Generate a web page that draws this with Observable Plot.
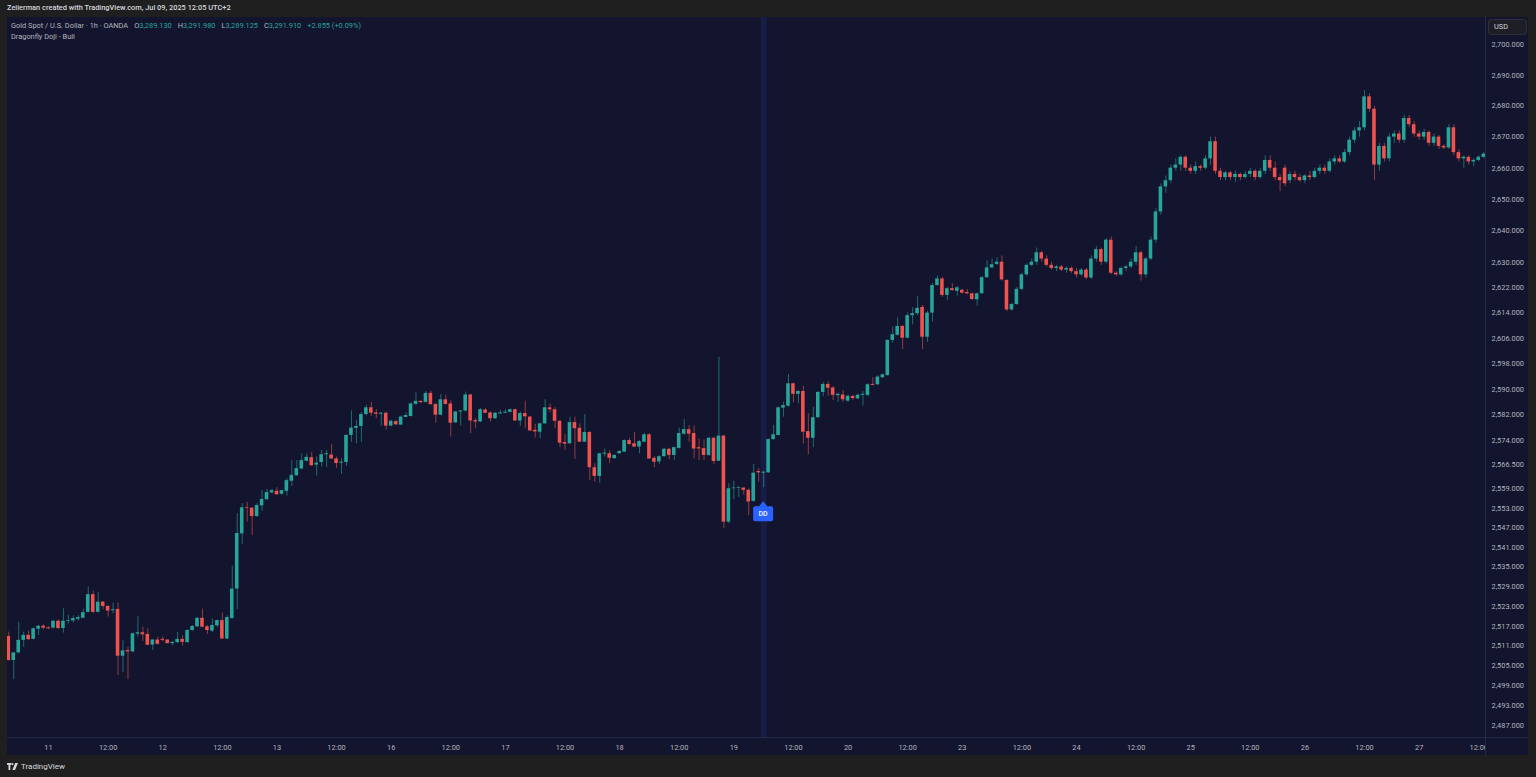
<!DOCTYPE html>
<html>
<head>
<meta charset="utf-8">
<script src="https://cdn.jsdelivr.net/npm/d3@7"></script>
<script src="https://cdn.jsdelivr.net/npm/@observablehq/plot@0.6"></script>
<style>
  html, body { margin: 0; padding: 0; width: 1536px; height: 777px; overflow: hidden; background: #1f1f1f;
    font-family: Roboto, "Liberation Sans", "DejaVu Sans", sans-serif; }
  #topbar { position: absolute; left: 7px; top: 3px; font-size: 7.4px; font-weight: 500; color: #d6d8de; white-space: nowrap; }
  #chart { position: absolute; left: 7px; top: 17px; width: 1521px; height: 738px; background: #13142d; overflow: hidden; }
  #legend { position: absolute; left: 4px; top: 3px; font-size: 7.4px; line-height: 11px; color: #b2b5be; white-space: nowrap; }
  #legend .v { color: #26a69a; }
  #legend .gap { display: inline-block; width: 6px; }
  #vsep { position: absolute; left: 1478px; top: 0; width: 1px; height: 738px; background: #262943; }
  #hsep { position: absolute; left: 0; top: 720px; width: 1521px; height: 1px; background: #262943; }
  #cover { position: absolute; left: 1479px; top: 721px; width: 42px; height: 17px; background: #13142d; }
  #usd { position: absolute; left: 1481px; top: 2px; width: 39px; height: 16px; border-radius: 3px; background: #1e1f26;
    border: 1px solid #2c2e3a; box-sizing: border-box; font-size: 7.4px; color: #d1d4dc; line-height: 14px; padding-left: 5px; }
  #footer { position: absolute; left: 7px; top: 760px; height: 12px; display: flex; align-items: center; gap: 3px;
    font-size: 8px; color: #d6d8de; }
</style>
</head>
<body>
<div id="topbar">Zeiierman created with TradingView.com, Jul 09, 2025 12:05 UTC+2</div>
<div id="chart">
  <div id="plot"></div>
  <div id="cover"></div>
  <div id="vsep"></div>
  <div id="hsep"></div>
  <div id="legend"></div>
  <div id="usd">USD</div>
</div>
<div id="footer">
  <svg width="11" height="7" viewBox="0 0 11 7"><rect x="0" y="0" width="4.2" height="1.8" fill="#d6d8de"/><rect x="1.5" y="0" width="1.8" height="7" fill="#d6d8de"/><circle cx="5.4" cy="1.1" r="1.1" fill="#d6d8de"/><path d="M8.2 0 L11 0 L8 7 L5.4 7 Z" fill="#d6d8de"/></svg>
  <span>TradingView</span>
</div>
<script>
// ---- data (Gold Spot / USD, OANDA, 1h) ----
const sessionDays = ["2024-09-10","2024-09-11","2024-09-12","2024-09-13","2024-09-16","2024-09-17","2024-09-18",
  "2024-09-19","2024-09-20","2024-09-23","2024-09-24","2024-09-25","2024-09-26","2024-09-27"];
const firstBarHour = 15, lastBarHour = 13, sessionLastHour = 22;

const open = [
2513.9,2506.6,2508.9,2512.7,2514.2,2513.0,2516.1,2517.0,2516.5,2516.4,2518.5,2516.3,2518.5,2518.6,2519.1,2519.4,2521.2,2526.6,2521.2,2524.3,
2523.0,2521.7,2522.1,2507.9,2509.6,2509.2,2514.6,2515.0,2514.5,2511.3,2512.8,2513.0,2512.8,2511.7,2512.0,2513.0,2512.0,2515.7,2516.8,2519.4,
2516.8,2515.5,2517.1,2518.7,2513.1,2519.3,2528.3,2545.2,2553.3,2553.1,2550.5,2553.8,2555.7,2557.8,2558.3,2557.4,2558.3,2561.4,2563.1,2565.2,
2567.6,2568.7,2566.4,2567.2,2569.6,2569.5,2568.3,2567.0,2567.2,2575.6,2577.8,2578.4,2582.1,2584.2,2582.6,2582.2,2582.5,2578.5,2579.9,2578.8,
2581.2,2581.5,2585.3,2586.2,2585.9,2588.7,2585.2,2581.9,2586.7,2585.4,2579.5,2582.9,2583.2,2588.2,2580.2,2579.8,2583.5,2582.6,2580.8,2582.3,
2582.5,2582.8,2583.6,2580.1,2582.4,2581.3,2577.2,2576.6,2579.2,2584.2,2583.6,2580.0,2573.4,2573.0,2579.6,2577.8,2573.5,2576.5,2565.6,2562.9,
2569.8,2569.9,2568.4,2569.9,2570.4,2574.0,2573.0,2572.0,2573.5,2575.8,2568.5,2567.4,2569.0,2571.3,2569.4,2571.6,2576.0,2577.4,2576.2,2571.8,
2571.5,2569.4,2574.7,2567.6,2575.4,2548.8,2559.1,2559.2,2559.3,2558.6,2555.2,2564.4,2563.9,2564.0,2574.3,2575.6,2584.1,2584.7,2591.7,2588.4,
2589.3,2576.8,2574.7,2581.1,2589.0,2591.5,2590.4,2588.0,2588.2,2586.3,2587.7,2587.0,2588.1,2588.1,2591.5,2591.4,2593.6,2594.3,2605.3,2606.9,
2609.7,2606.0,2613.1,2613.7,2615.7,2606.3,2613.9,2622.6,2624.7,2619.5,2621.6,2620.8,2621.1,2620.4,2620.0,2618.1,2620.0,2625.1,2628.2,2629.3,
2630.0,2624.2,2614.9,2616.6,2621.4,2626.0,2629.0,2630.0,2633.0,2631.0,2629.0,2628.0,2628.5,2627.5,2628.0,2627.0,2626.0,2627.5,2625.0,2631.0,
2634.0,2630.0,2637.0,2626.5,2626.0,2628.0,2628.5,2630.0,2633.0,2626.0,2631.0,2637.0,2646.0,2654.0,2656.0,2660.0,2661.0,2663.5,2660.0,2659.0,
2660.5,2660.0,2663.0,2668.5,2659.0,2657.0,2658.5,2657.0,2658.0,2657.0,2658.0,2659.0,2657.0,2659.0,2662.5,2660.0,2657.0,2660.0,2656.0,2658.0,
2657.0,2656.0,2657.5,2657.0,2659.0,2660.0,2659.0,2662.0,2663.0,2662.0,2665.0,2669.0,2672.0,2673.0,2683.0,2679.0,2661.0,2667.0,2663.0,2670.0,
2671.0,2669.0,2676.0,2674.0,2671.0,2670.0,2671.5,2668.0,2670.0,2667.0,2666.5,2673.0,2665.0,2663.0,2663.5,2662.0,2662.5,2663.5];
const high = [
2515.2,2509.0,2518.2,2515.2,2515.5,2516.5,2517.2,2517.4,2516.8,2518.7,2518.9,2522.3,2520.3,2520.1,2520.2,2522.2,2528.9,2527.7,2527.2,2524.5,
2523.2,2524.0,2524.1,2512.7,2510.6,2514.9,2520.0,2516.7,2516.2,2512.9,2513.7,2513.7,2512.8,2512.2,2515.1,2514.1,2515.9,2517.2,2519.6,2522.2,
2517.2,2519.2,2518.9,2521.0,2520.2,2535.3,2551.4,2554.5,2554.9,2553.2,2554.5,2558.6,2558.9,2558.9,2559.4,2558.6,2562.2,2567.8,2567.8,2569.9,
2569.9,2570.4,2568.9,2570.9,2570.9,2572.8,2568.9,2568.4,2575.8,2583.2,2580.3,2582.7,2585.0,2585.9,2583.6,2582.7,2582.9,2580.3,2580.3,2581.7,
2582.6,2585.7,2588.9,2586.5,2589.3,2589.4,2585.6,2588.4,2588.1,2586.3,2583.1,2583.4,2589.1,2588.4,2580.8,2583.9,2583.9,2582.9,2582.7,2583.4,
2583.6,2583.8,2583.8,2582.9,2586.3,2581.5,2579.1,2579.4,2586.7,2585.4,2584.2,2580.3,2575.9,2581.3,2581.3,2579.2,2582.1,2576.8,2566.8,2570.1,
2571.4,2570.9,2569.6,2570.9,2574.2,2574.7,2576.5,2574.0,2576.2,2576.2,2569.0,2569.3,2571.6,2571.6,2572.0,2577.9,2580.6,2578.7,2578.5,2574.5,
2574.2,2575.1,2575.1,2600.0,2575.6,2560.6,2561.4,2559.7,2559.4,2559.0,2566.6,2565.3,2564.5,2574.5,2578.7,2584.4,2585.9,2594.6,2591.9,2589.6,
2591.0,2582.4,2584.4,2589.3,2592.2,2592.4,2590.8,2588.8,2589.6,2588.2,2588.2,2588.5,2589.4,2591.7,2593.6,2594.2,2594.8,2605.5,2609.5,2612.4,
2610.0,2614.0,2615.6,2619.2,2616.3,2614.5,2623.2,2625.6,2625.1,2622.0,2623.2,2622.3,2621.4,2621.3,2620.2,2620.2,2625.5,2630.5,2631.0,2631.5,
2632.0,2624.5,2617.0,2622.0,2626.5,2629.5,2631.0,2634.5,2633.5,2632.0,2630.0,2629.0,2629.0,2628.5,2628.5,2628.0,2628.0,2628.0,2632.0,2635.0,
2634.5,2637.5,2638.0,2627.0,2628.5,2629.0,2631.0,2635.0,2633.5,2631.5,2638.0,2647.0,2655.0,2657.5,2661.0,2663.0,2664.0,2664.0,2661.0,2662.0,
2661.0,2664.0,2670.0,2670.0,2660.0,2659.0,2659.0,2659.0,2658.5,2659.0,2660.0,2659.5,2660.0,2664.0,2664.0,2662.0,2658.0,2661.0,2659.0,2659.0,
2658.0,2658.0,2659.0,2660.0,2661.0,2661.0,2663.0,2664.0,2664.0,2666.0,2670.0,2673.0,2675.0,2685.0,2684.0,2680.0,2668.0,2668.0,2671.0,2672.0,
2672.0,2677.0,2677.0,2675.0,2672.0,2672.5,2672.0,2671.0,2670.5,2667.5,2674.0,2674.0,2666.0,2664.0,2664.0,2663.0,2664.0,2665.0];
const low = [
2506.4,2500.8,2508.6,2510.6,2512.7,2512.9,2514.2,2515.9,2516.0,2516.2,2516.0,2514.9,2517.7,2518.0,2518.5,2519.3,2521.1,2520.8,2521.1,2522.0,
2519.8,2520.8,2502.1,2503.0,2500.8,2508.9,2513.7,2512.4,2511.2,2509.6,2511.3,2512.2,2511.7,2511.0,2511.7,2510.9,2511.9,2515.5,2516.7,2516.5,
2514.5,2515.0,2516.5,2513.0,2513.0,2519.2,2522.0,2541.9,2548.8,2544.7,2550.3,2552.1,2555.5,2557.5,2557.2,2557.1,2556.8,2559.8,2562.9,2565.0,
2567.4,2566.0,2563.0,2565.8,2565.6,2568.1,2565.4,2563.5,2566.0,2573.5,2573.0,2573.5,2581.7,2581.5,2580.8,2578.4,2577.2,2578.3,2578.7,2578.7,
2581.2,2581.3,2585.0,2585.6,2585.6,2585.0,2579.4,2581.7,2585.2,2575.1,2579.4,2578.5,2582.9,2576.2,2577.7,2579.6,2582.4,2579.8,2580.6,2582.2,
2582.4,2582.6,2579.9,2578.4,2577.7,2576.8,2574.8,2574.6,2579.1,2582.6,2577.7,2571.8,2570.9,2572.9,2568.2,2573.4,2573.4,2561.6,2561.1,2560.8,
2568.9,2566.8,2568.2,2569.9,2570.4,2572.5,2571.8,2569.9,2573.4,2568.2,2565.6,2566.5,2568.9,2568.1,2567.8,2571.4,2575.6,2573.5,2568.3,2567.8,
2567.8,2569.1,2566.6,2567.5,2546.8,2548.3,2555.7,2556.4,2557.1,2550.8,2554.9,2561.1,2559.4,2563.9,2574.2,2575.5,2581.3,2584.4,2585.7,2585.5,
2573.0,2569.6,2571.8,2581.0,2587.6,2587.8,2586.5,2585.9,2585.9,2585.9,2586.5,2586.7,2584.7,2587.6,2591.1,2591.2,2593.3,2594.0,2604.4,2606.7,
2602.4,2605.8,2610.2,2613.1,2602.4,2604.7,2611.1,2622.5,2618.9,2617.9,2620.8,2619.2,2619.9,2619.7,2617.9,2616.1,2619.8,2624.8,2627.9,2629.0,
2624.0,2614.4,2614.5,2616.4,2621.0,2625.5,2628.5,2629.0,2630.0,2628.5,2627.5,2627.0,2627.0,2626.5,2626.5,2625.0,2625.5,2624.5,2624.5,2630.0,
2629.0,2629.5,2626.0,2625.5,2625.5,2627.0,2628.0,2629.0,2624.0,2625.0,2630.5,2636.0,2645.0,2652.0,2655.0,2659.0,2659.0,2659.0,2658.0,2658.0,
2659.0,2659.5,2661.0,2658.0,2656.0,2656.0,2656.0,2655.5,2656.0,2656.5,2657.0,2656.0,2656.5,2658.0,2659.0,2656.0,2652.5,2654.0,2655.0,2656.0,
2655.5,2655.0,2656.0,2656.5,2658.0,2658.0,2658.5,2661.0,2661.5,2661.5,2664.0,2668.0,2670.0,2672.0,2678.0,2656.0,2659.0,2662.0,2662.0,2668.0,
2668.0,2668.0,2673.0,2670.0,2669.0,2669.0,2667.0,2667.0,2666.0,2666.0,2666.0,2664.0,2662.0,2660.0,2661.0,2660.5,2662.0,2663.0];
const close = [
2506.6,2508.9,2512.7,2514.2,2512.9,2516.2,2517.0,2516.4,2516.2,2518.5,2516.3,2518.5,2518.7,2519.3,2519.6,2521.1,2526.6,2521.2,2524.3,2523.0,
2521.6,2522.0,2507.9,2509.5,2509.2,2514.7,2515.0,2514.4,2511.2,2512.8,2511.5,2512.7,2511.7,2512.1,2513.0,2512.1,2515.7,2516.9,2519.4,2516.7,
2515.7,2517.2,2518.7,2513.1,2519.6,2528.3,2545.3,2553.2,2553.1,2550.5,2553.9,2555.8,2557.9,2558.5,2557.2,2558.5,2561.6,2563.2,2565.3,2567.8,
2568.8,2566.2,2567.0,2569.6,2569.9,2568.3,2566.9,2567.3,2575.6,2577.9,2578.4,2582.1,2584.2,2582.5,2582.2,2582.5,2578.5,2580.0,2578.9,2581.3,
2581.8,2585.4,2586.2,2585.8,2588.7,2585.2,2581.9,2586.7,2585.2,2579.4,2582.9,2583.2,2588.2,2580.1,2579.8,2583.6,2582.5,2580.8,2582.5,2582.6,
2582.8,2583.6,2580.1,2582.4,2581.4,2577.0,2576.7,2579.2,2584.2,2583.6,2580.0,2573.2,2572.9,2579.6,2577.7,2573.5,2576.5,2565.6,2562.9,2569.9,
2570.1,2568.5,2569.4,2570.6,2574.0,2572.8,2572.0,2573.7,2575.8,2568.3,2567.3,2569.0,2571.3,2569.4,2571.8,2576.2,2577.4,2576.0,2571.4,2571.4,
2569.4,2574.7,2567.5,2575.4,2548.8,2559.1,2559.3,2559.4,2558.6,2555.0,2563.9,2564.0,2564.2,2574.3,2575.8,2584.2,2584.9,2591.7,2588.4,2589.3,
2576.6,2574.7,2581.1,2589.0,2591.5,2590.3,2588.1,2588.4,2586.7,2587.8,2587.1,2588.1,2588.4,2591.4,2591.2,2593.8,2594.5,2605.3,2607.1,2609.7,
2606.0,2613.1,2613.7,2615.4,2606.3,2613.9,2622.6,2624.7,2619.5,2621.6,2621.0,2621.9,2620.2,2620.0,2618.2,2620.0,2625.1,2628.2,2629.2,2630.0,
2624.4,2614.9,2616.6,2621.4,2626.0,2629.0,2630.0,2633.0,2631.0,2629.0,2628.0,2628.5,2627.5,2628.0,2627.0,2626.0,2627.5,2625.0,2631.0,2634.0,
2630.0,2637.0,2626.5,2626.0,2628.0,2628.5,2630.0,2633.0,2626.0,2631.0,2637.0,2646.0,2654.0,2656.0,2660.0,2661.0,2663.5,2660.0,2659.0,2660.5,
2660.0,2663.0,2668.5,2659.0,2657.0,2658.5,2657.0,2658.0,2657.0,2658.0,2659.0,2657.0,2659.0,2662.5,2660.0,2657.0,2656.0,2655.0,2658.0,2657.0,
2656.0,2657.5,2657.0,2659.0,2660.0,2659.0,2662.0,2663.0,2662.0,2665.0,2669.0,2672.0,2673.0,2683.0,2679.0,2661.0,2667.0,2663.0,2670.0,2671.0,
2669.0,2676.0,2674.0,2671.0,2670.0,2671.5,2668.0,2670.0,2667.0,2666.5,2673.0,2665.0,2663.0,2663.5,2662.0,2662.5,2663.5,2664.5];

const yTicks = [2700,2690,2680,2670,2660,2650,2640,2630,2622,2614,2606,2598,2590,2582,2574,2566.5,2559,2553,2547,2541,2535,2529,2523,2517,2511,2505,2499,2493,2487];
const patternName = "DD";
const patternDate = "2024-09-19", patternHour = 6;
const headerName = "Gold Spot / U.S. Dollar · 1h · OANDA";
const headerOHLC = [["O","3,289.130"],["H","3,291.980"],["L","3,289.125"],["C","3,291.910"]];
const headerChange = "+2.855 (+0.09%)";
const indicatorName = "Dragonfly Doji - Bull";

// ---- build bars ----
const bars = [];
sessionDays.forEach((day, k) => {
  const h0 = k === 0 ? firstBarHour : 0;
  const h1 = k === sessionDays.length - 1 ? lastBarHour : sessionLastHour;
  for (let h = h0; h <= h1; h++) {
    const i = bars.length;
    bars.push({i, day, hour: h, o: open[i], h: high[i], l: low[i], c: close[i], up: close[i] >= open[i]});
  }
});
const tickIdx = bars.filter(b => b.hour === 0 || b.hour === 12).map(b => b.i);
const tickLabel = new Map(bars.map(b => [b.i, b.hour === 0 ? String(+b.day.slice(8)) : "12:00"]));
const ddBar = bars.find(b => b.day === patternDate && b.hour === patternHour);

const GREEN = "#26a69a", RED = "#ef5350";

// legend
const leg = document.getElementById("legend");
leg.innerHTML = `<div>${headerName}<span class="gap"></span>` +
  headerOHLC.map(([k, v]) => `${k}<span class="v">${v}</span>`).join('<span class="gap"></span>') +
  `<span class="gap"></span><span class="v">${headerChange}</span></div><div>${indicatorName}</div>`;

function ddLabel(...args) {
  const scales = args.find(a => a && typeof a.x === "function" && typeof a.y === "function");
  const x = scales.x(ddBar.i), y = scales.y(ddBar.l);
  const g = d3.create("svg:g");
  const apex = y + 14, top = y + 19, bottom = y + 34;
  g.append("path").attr("d", `M${x},${apex}L${x + 4.5},${top + 0.5}L${x - 4.5},${top + 0.5}Z`).attr("fill", "#2962ff");
  g.append("rect").attr("x", x - 10).attr("y", top).attr("width", 20).attr("height", bottom - top).attr("rx", 2).attr("fill", "#2962ff");
  g.append("text").attr("x", x).attr("y", (top + bottom) / 2).attr("dy", "0.35em").attr("text-anchor", "middle")
    .attr("fill", "#e6ebff").attr("font-size", 7.2).attr("font-weight", 600).text(patternName);
  return g.node();
}

const chart = Plot.plot({
  width: 1521,
  height: 738,
  marginTop: 0, marginLeft: 0, marginRight: 43, marginBottom: 18,
  style: { background: "#13142d", color: "#b2b5be", fontSize: "7.4px", fontFamily: "Roboto, 'Liberation Sans', sans-serif" },
  x: { type: "linear", domain: [-0.26, 297.36], axis: null },
  y: { type: "log", domain: [2483.42, 2708.81], axis: null },
  marks: [
    Plot.ruleX([ddBar], { x: "i", stroke: "#171d46", strokeWidth: 6 }),
    Plot.ruleX(bars, { x: "i", y1: "l", y2: "h", stroke: d => d.up ? GREEN : RED, strokeOpacity: 0.6, strokeWidth: 1 }),
    Plot.rect(bars, { x1: d => d.i - 0.36, x2: d => d.i + 0.36, y1: "o", y2: "c", fill: d => d.up ? GREEN : RED }),
    ddLabel,
    Plot.axisY({ anchor: "right", ticks: yTicks, tickFormat: d3.format(",.3f"), tickSize: 0, tickPadding: 6, fill: "#b2b5be", label: null }),
    Plot.axisX({ anchor: "bottom", ticks: tickIdx, tickFormat: i => tickLabel.get(i), tickSize: 0, tickPadding: 7, fill: "#b2b5be", label: null })
  ]
});
document.getElementById("plot").appendChild(chart);
</script>
</body>
</html>
